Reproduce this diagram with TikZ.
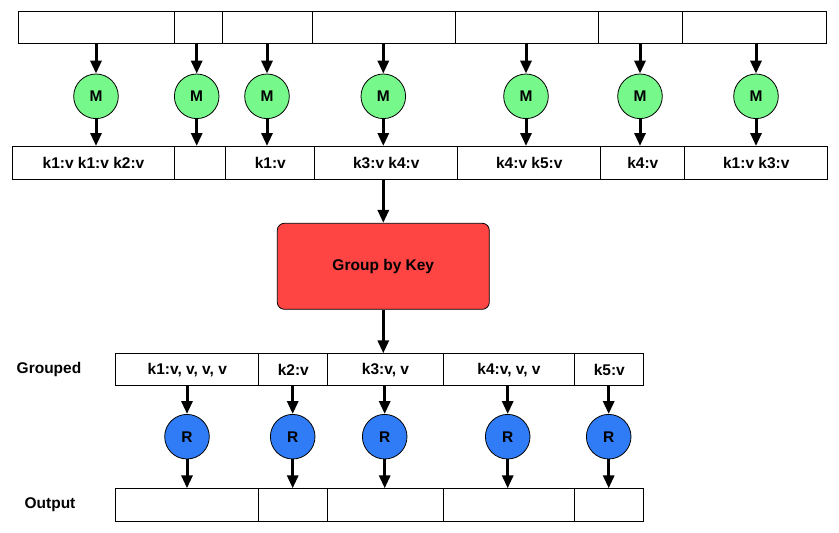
\documentclass[tikz,border=0pt]{standalone}
\usepackage{fontspec}
\setmainfont{Liberation Sans}
\usetikzlibrary{arrows.meta}
\definecolor{mgreen}{HTML}{77F88B}
\definecolor{rblue}{HTML}{2F7CF6}
\definecolor{gred}{HTML}{FF4444}
\tikzset{
  txt/.style={font=\fontsize{15.5}{18}\selectfont\bfseries},
  cell/.style={draw=black, line width=1pt, inner sep=0pt, txt},
  mapper/.style={circle, draw=black, line width=0.8pt, fill=mgreen, minimum size=44.6pt, inner sep=0pt, txt},
  reducer/.style={circle, draw=black, line width=0.8pt, fill=rblue, minimum size=44.6pt, inner sep=0pt, txt},
  flow/.style={line width=3pt, -{Triangle[length=13pt,width=11pt]}},
  lbl/.style={txt, inner sep=0pt}
}
\newcommand{\cellat}[6]{% name, x1, y1, x2, y2, text
  \node[cell, minimum width={(#4-#2)*1pt}, minimum height={(#5-#3)*1pt}, anchor=north west] (#1) at (#2,#3) {#6};}
\begin{document}
\begin{tikzpicture}[x=1pt,y=-1pt]
\useasboundingbox (0,0) rectangle (839,533);
% top row
\cellat{t1}{18}{11}{174.3}{43}{}
\cellat{t2}{174.3}{11}{222.3}{43}{}
\cellat{t3}{222.3}{11}{312.3}{43}{}
\cellat{t4}{312.3}{11}{455}{43}{}
\cellat{t5}{455}{11}{598.3}{43}{}
\cellat{t6}{598.3}{11}{682.3}{43}{}
\cellat{t7}{682.3}{11}{825.7}{43}{}
% mapped row
\cellat{m1}{11.7}{146}{174.3}{179}{k1:v k1:v k2:v}
\cellat{m2}{174.3}{146}{225.3}{179}{}
\cellat{m3}{225.3}{146}{314.3}{179}{k1:v}
\cellat{m4}{314.3}{146}{457.3}{179}{k3:v k4:v}
\cellat{m5}{457.3}{146}{600.3}{179}{k4:v k5:v}
\cellat{m6}{600.3}{146}{684.3}{179}{k4:v}
\cellat{m7}{684.3}{146}{827.3}{179}{k1:v k3:v}
% mappers
\foreach \i/\x in {1/96,2/196.7,3/267,4/383.3,5/526,6/640,7/756}{
  \node[mapper] (M\i) at (\x,96.3) {M};
  \coordinate (ta\i) at (\x,43);
  \coordinate (tb\i) at (\x,146);
  \draw[flow] (ta\i) -- (M\i.north);
  \draw[flow] (M\i.south) -- (tb\i);
}
% group by key
\node[draw=black, line width=0.8pt, fill=gred, rounded corners=7pt, minimum width=212pt, minimum height=86pt, inner sep=0pt, txt] (G) at (383.3,266.3) {Group by Key};
\coordinate (gin) at (383.3,179);
\draw[flow] (gin) -- (G.north);
% grouped row
\cellat{g1}{115.3}{353.3}{258.3}{385}{k1:v, v, v, v}
\cellat{g2}{258.3}{353.3}{327.3}{385}{k2:v}
\cellat{g3}{327.3}{353.3}{442.7}{385}{k3:v, v}
\cellat{g4}{442.7}{353.3}{574.3}{385}{k4:v, v, v}
\cellat{g5}{574.3}{353.3}{643.3}{385}{k5:v}
\coordinate (gout) at (383.3,353.3);
\draw[flow] (G.south) -- (gout);
% output row
\cellat{o1}{115.3}{488.3}{258.3}{521}{}
\cellat{o2}{258.3}{488.3}{327.3}{521}{}
\cellat{o3}{327.3}{488.3}{442.7}{521}{}
\cellat{o4}{442.7}{488.3}{574.3}{521}{}
\cellat{o5}{574.3}{488.3}{643.3}{521}{}
% reducers
\foreach \i/\x in {1/187,2/292.7,3/384.7,4/507.7,5/608.7}{
  \node[reducer] (R\i) at (\x,436.7) {R};
  \coordinate (ra\i) at (\x,385);
  \coordinate (rb\i) at (\x,488.3);
  \draw[flow] (ra\i) -- (R\i.north);
  \draw[flow] (R\i.south) -- (rb\i);
}
% labels
\node[lbl] (lg) at (49,369.5) {Grouped};
\node[lbl] (lo) at (50,504.5) {Output};
\end{tikzpicture}
\end{document}
